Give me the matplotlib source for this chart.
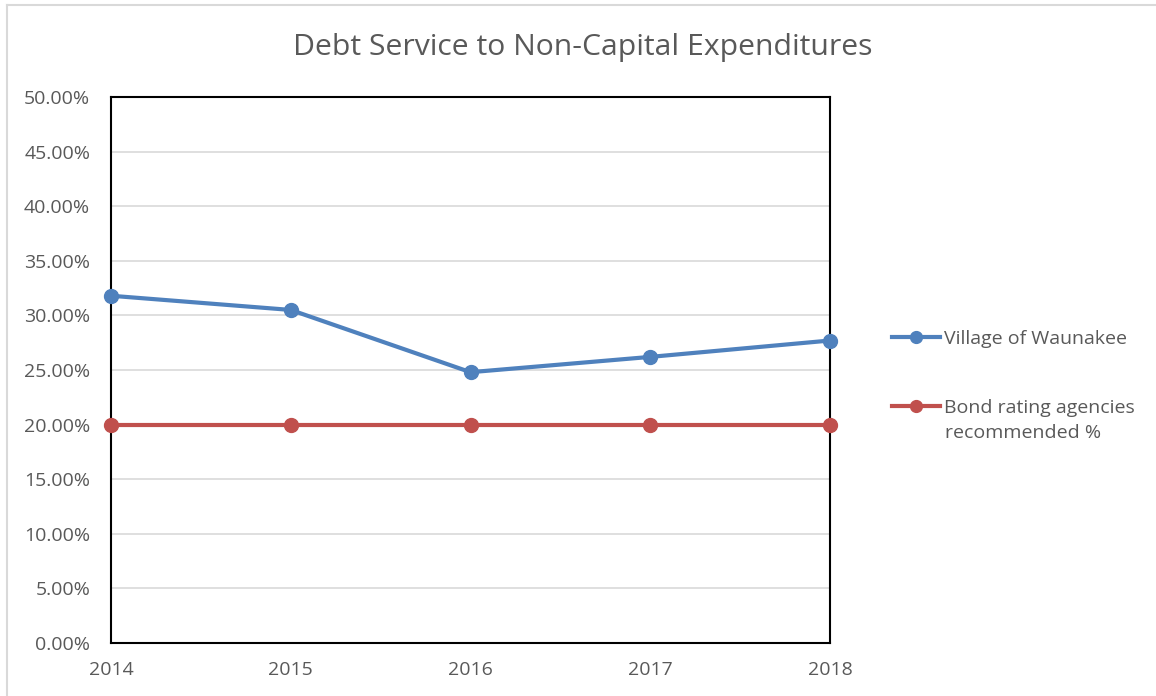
import matplotlib
matplotlib.use("Agg")
import matplotlib.pyplot as plt
from matplotlib.lines import Line2D
from matplotlib.ticker import FuncFormatter, MultipleLocator

years = [2014, 2015, 2016, 2017, 2018]
waunakee = [31.8, 30.5, 24.8, 26.2, 27.7]
recommended = [20.0, 20.0, 20.0, 20.0, 20.0]
series_names = ["Village of Waunakee", "Bond rating agencies", "recommended %"]
title = "Debt Service to Non-Capital Expenditures"

plt.rcParams['font.family'] = ['Open Sans', 'DejaVu Sans']
txt = '#595959'
W, H = 1156, 696
fs = 14

fig = plt.figure(figsize=(W/100, H/100), dpi=100)
ax = fig.add_axes([111/W, 1-643/H, (830-111)/W, (643-97)/H])

# outer chart border (cropped)
fig.add_artist(Line2D([7/W, 7/W], [0, 1-5/H], color='#D9D9D9', lw=1.5, transform=fig.transFigure))
fig.add_artist(Line2D([7/W, 1], [1-5/H, 1-5/H], color='#D9D9D9', lw=1.5, transform=fig.transFigure))

ax.plot(years, waunakee, color='#4F81BD', lw=3, marker='o', ms=10, clip_on=False, zorder=3,
        label=series_names[0])
ax.plot(years, recommended, color='#C0504D', lw=3, marker='o', ms=10, clip_on=False, zorder=3,
        label=series_names[1])

ax.set_xlim(2014, 2018)
ax.set_ylim(0, 50)
ax.yaxis.set_major_locator(MultipleLocator(5))
ax.yaxis.set_major_formatter(FuncFormatter(lambda v, p: f"{v:.2f}%"))
ax.set_xticks(years)
ax.grid(axis='y', color='#D9D9D9', lw=1.2)
ax.set_axisbelow(True)
for s in ax.spines.values():
    s.set_color('black')
    s.set_linewidth(1.5)
ax.tick_params(length=0, labelsize=fs, colors=txt)
ax.tick_params(axis='y', pad=15)
ax.tick_params(axis='x', pad=13)

fig.text(583/W, 1-47/H, title, ha='center', va='center', fontsize=21.7, color=txt)

leg = ax.legend(loc='upper left', bbox_to_anchor=(892/W, 1-330/H), bbox_transform=fig.transFigure,
                frameon=False, fontsize=fs, labelcolor=txt, handlelength=2.45,
                handletextpad=0.2, labelspacing=2.6, borderaxespad=0, borderpad=0,
                markerscale=0.85)
fig.text(945/W, 1-433/H, series_names[2], ha='left', va='center', fontsize=fs, color=txt)

fig.savefig('out.png', dpi=100)
